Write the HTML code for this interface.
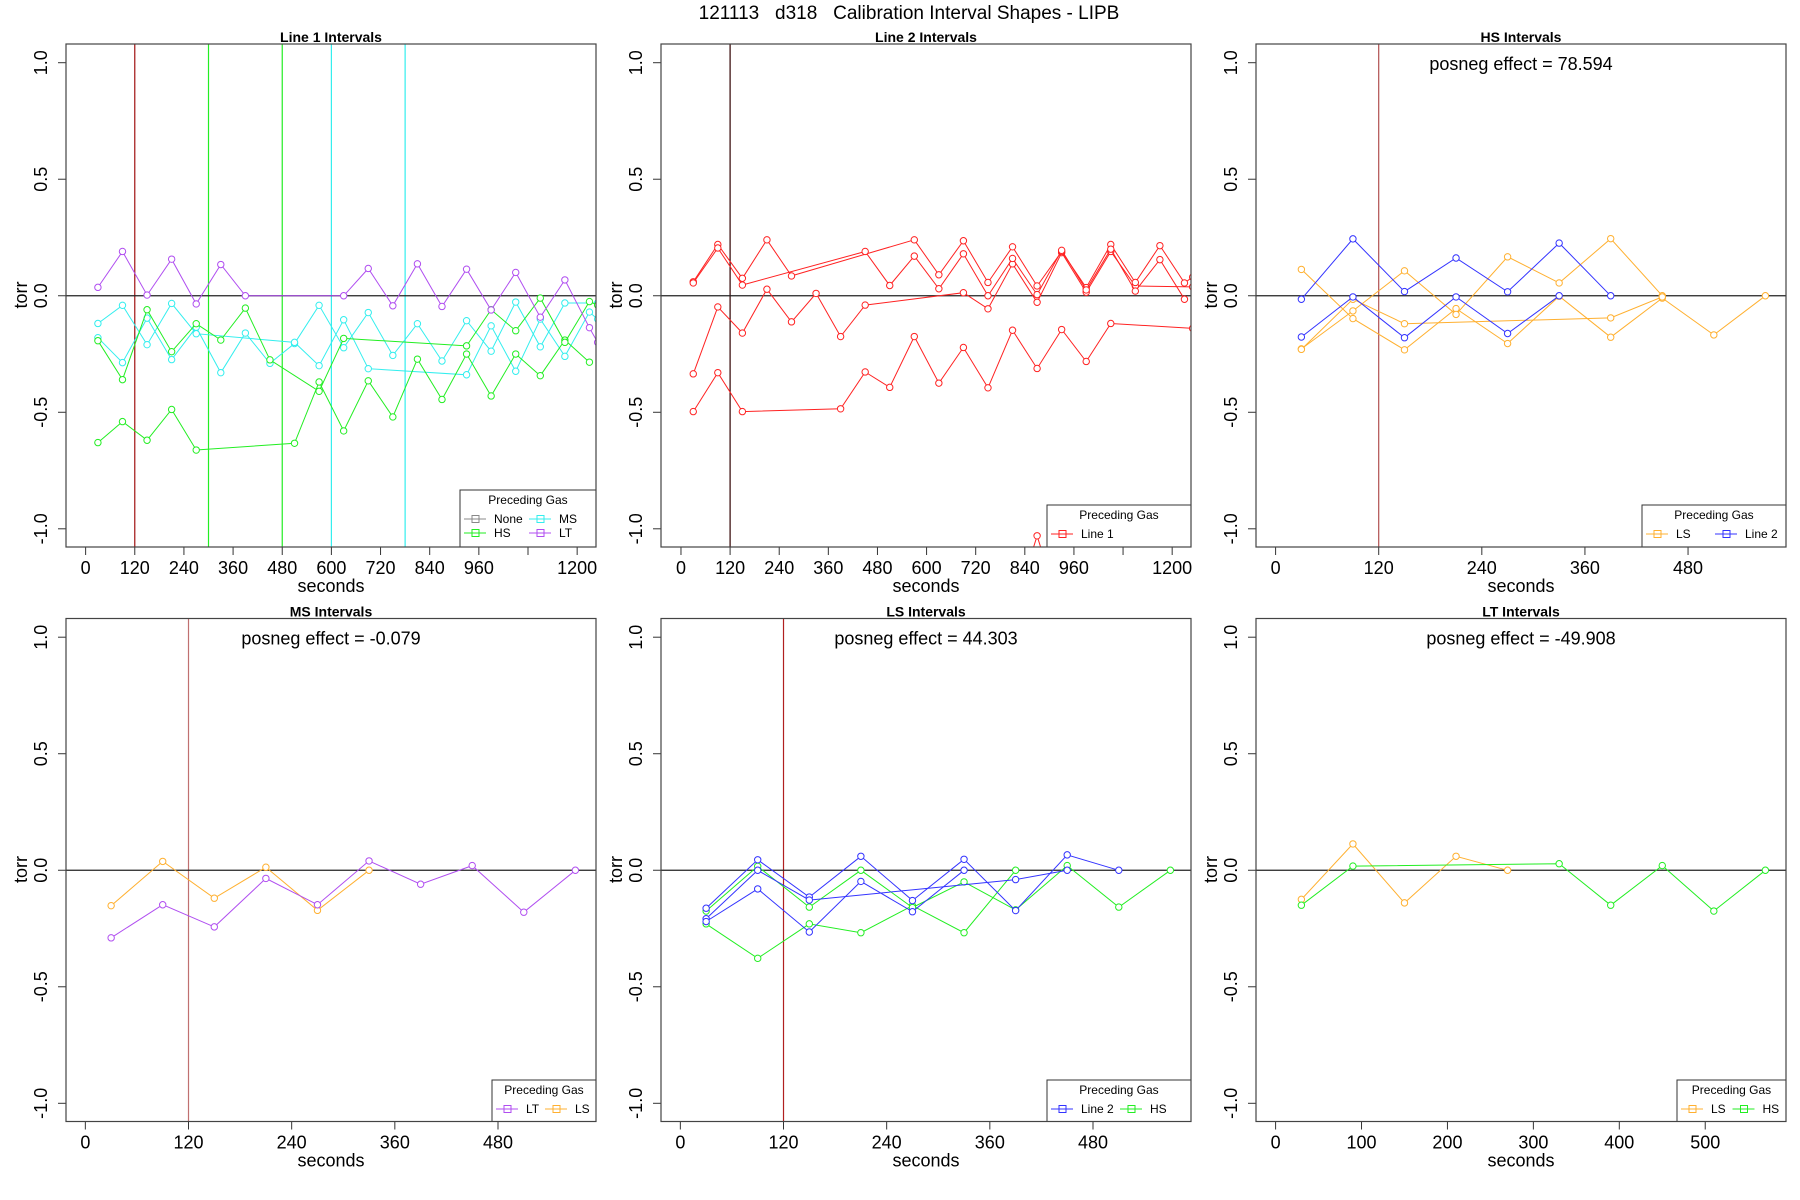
<!DOCTYPE html>
<html><head><meta charset="utf-8"><style>
html,body{margin:0;padding:0;background:#fff;}
svg{display:block;font-family:"Liberation Sans",Arial,sans-serif;}
</style></head><body>
<svg id="chart" width="1800" height="1200" viewBox="0 0 1800 1200" xmlns="http://www.w3.org/2000/svg">
<rect width="1800" height="1200" fill="#fff"/>
<text x="909" y="19" font-size="19" text-anchor="middle" style="white-space:pre">121113   d318   Calibration Interval Shapes - LIPB</text>
</svg>
<script>
// ---------- data ----------
const p1_LT = [[30,0.036],[90,0.19],[150,0.003],[210,0.157],[270,-0.035],[330,0.134],[390,0],[630,0],[690,0.117],[750,-0.043],[810,0.137],[870,-0.046],[930,0.114],[990,-0.061],[1050,0.1],[1110,-0.092],[1170,0.068],[1230,-0.137],[1250,-0.2]];
const p1_MS_a = [[30,-0.18],[90,-0.287],[150,-0.096],[210,-0.274],[270,-0.135],[330,-0.33],[390,-0.16],[450,-0.29],[510,-0.205],[570,-0.041],[630,-0.223],[690,-0.072],[750,-0.256],[810,-0.12],[870,-0.28],[930,-0.107],[990,-0.238],[1050,-0.027],[1110,-0.219],[1170,-0.031],[1250,-0.031]];
const p1_MS_b = [[30,-0.119],[90,-0.041],[150,-0.21],[210,-0.033],[270,-0.163],[510,-0.2],[570,-0.3],[630,-0.103],[690,-0.313],[930,-0.339],[990,-0.129],[1050,-0.324],[1110,-0.1],[1170,-0.26],[1230,-0.07],[1250,-0.1]];
const p1_HS_a = [[30,-0.63],[90,-0.54],[150,-0.62],[210,-0.488],[270,-0.662],[510,-0.633],[570,-0.37],[630,-0.58],[690,-0.365],[750,-0.52],[810,-0.272],[870,-0.445],[930,-0.25],[990,-0.43],[1050,-0.25],[1110,-0.343],[1170,-0.19],[1230,-0.285]];
const p1_HS_b = [[30,-0.193],[90,-0.36],[150,-0.06],[210,-0.24],[270,-0.12],[330,-0.19],[390,-0.053],[450,-0.275],[570,-0.41],[630,-0.183],[930,-0.215],[990,-0.06],[1050,-0.15],[1110,-0.01],[1170,-0.2],[1230,-0.025],[1250,-0.04]];
const p2_R1 = [[30,-0.497],[90,-0.33],[150,-0.497],[390,-0.485],[450,-0.327],[510,-0.393],[570,-0.175],[630,-0.375],[690,-0.222],[750,-0.395],[810,-0.148],[870,-0.312],[930,-0.145],[990,-0.282],[1050,-0.119],[1250,-0.14]];
const p2_R2 = [[30,-0.335],[90,-0.048],[150,-0.16],[210,0.028],[270,-0.112],[330,0.01],[390,-0.175],[450,-0.04],[690,0.013],[750,-0.056],[810,0.137],[870,-0.028],[930,0.185],[990,0.015],[1050,0.19],[1110,0.042],[1250,0.038]];
const p2_R3 = [[30,0.06],[90,0.22],[150,0.075],[210,0.24],[270,0.085],[570,0.24],[630,0.09],[690,0.236],[750,0.057],[810,0.21],[870,0.042],[930,0.19],[990,0.035],[1050,0.22],[1110,0.057],[1170,0.215],[1230,0.055],[1250,0.08]];
const p2_R4 = [[30,0.055],[90,0.205],[150,0.046],[450,0.19],[510,0.044],[570,0.17],[630,0.03],[690,0.18],[750,0],[810,0.16],[870,0.005],[930,0.195],[990,0.025],[1050,0.2],[1110,0.02],[1170,0.155],[1230,-0.015]];
const p2_R5 = [[840,-1.2],[870,-1.03],[900,-1.2]];
const p3_B1 = [[30,-0.015],[90,0.244],[150,0.018],[210,0.162],[270,0.017],[330,0.226],[390,0]];
const p3_B2 = [[30,-0.177],[90,-0.005],[150,-0.18],[210,-0.005],[270,-0.162],[330,0]];
const p3_O1 = [[30,0.113],[90,-0.098],[150,-0.232],[210,-0.055],[270,-0.205],[330,-0.002],[390,-0.178],[450,-0.01],[510,-0.168],[570,0]];
const p3_O2 = [[30,-0.228],[90,-0.065],[150,0.107],[210,-0.08],[270,0.167],[330,0.055],[390,0.245],[450,0]];
const p3_O3 = [[30,-0.23],[90,-0.015],[150,-0.12],[390,-0.095],[450,-0.005]];
const p4_LT = [[30,-0.29],[90,-0.148],[150,-0.243],[210,-0.035],[270,-0.148],[330,0.04],[390,-0.06],[450,0.02],[510,-0.18],[570,0]];
const p4_LS = [[30,-0.152],[90,0.038],[150,-0.12],[210,0.013],[270,-0.172],[330,0]];
const p5_B1 = [[30,-0.163],[90,0.045],[150,-0.115],[210,0.06],[270,-0.13],[330,0.047],[390,-0.173],[450,0.066],[510,0]];
const p5_B2 = [[30,-0.208],[90,0],[150,-0.128],[390,-0.04],[450,0]];
const p5_B3 = [[30,-0.22],[90,-0.08],[150,-0.265],[210,-0.048],[270,-0.178],[330,0]];
const p5_G1 = [[30,-0.23],[90,-0.378],[150,-0.23],[210,-0.268],[270,-0.152],[330,-0.268],[390,0]];
const p5_G2 = [[30,-0.175],[90,0.017],[150,-0.158],[210,0],[270,-0.16],[330,-0.05],[390,-0.17],[450,0.02],[510,-0.158],[570,0]];
const p6_LS = [[30,-0.125],[90,0.113],[150,-0.14],[210,0.06],[270,0]];
const p6_HS = [[30,-0.15],[90,0.018],[330,0.028],[390,-0.15],[450,0.02],[510,-0.175],[570,0]];
const yTicks = [-1,-0.5,0,0.5,1];
const yTickLabels = ["-1.0","-0.5","0.0","0.5","1.0"];
const xTicksLong = [0,120,240,360,480,600,720,840,960,1080,1200];
const xTickLabelsLong = ["0","120","240","360","480","600","720","840","960","","1200"];
const xTicksShort = [0,120,240,360,480];
const xTicksHundred = [0,100,200,300,400,500];

const GREEN="#22ee22", CYAN="#33eeee", PURPLE="#b04ef0", ORANGE="#ffb030", BLUE="#3333ff", RED="#ff2222", GRAY="#888888";
const NS="http://www.w3.org/2000/svg";
const svg=document.getElementById('chart');
function mk(tag,attrs,parent){const e=document.createElementNS(NS,tag);for(const k in attrs)e.setAttribute(k,attrs[k]);(parent||svg).appendChild(e);return e;}

const panels=[
 {id:1,left:66,top:44,title:"Line 1 Intervals",xlim:[-47.9,1246],ticks:xTicksLong,labels:xTickLabelsLong,posneg:null,
  vlines:[[120,"#a01010"],[300,GREEN],[480,GREEN],[600,CYAN],[780,CYAN]],
  series:[[p1_MS_a,CYAN],[p1_MS_b,CYAN],[p1_HS_a,GREEN],[p1_HS_b,GREEN],[p1_LT,PURPLE]],
  legend:{x0:460,y0:490,rows:[[["None",GRAY],["MS",CYAN]],[["HS",GREEN],["LT",PURPLE]]]}},
 {id:2,left:661,top:44,title:"Line 2 Intervals",xlim:[-48.8,1246],ticks:xTicksLong,labels:xTickLabelsLong,posneg:null,
  vlines:[[120,"#300000"]],
  series:[[p2_R1,RED],[p2_R2,RED],[p2_R3,RED],[p2_R4,RED],[p2_R5,RED]],
  legend:{x0:1047,y0:505,rows:[[["Line 1",RED]]]}},
 {id:3,left:1256,top:44,title:"HS Intervals",xlim:[-22.8,594],ticks:xTicksShort,labels:xTicksShort.map(String),posneg:"posneg effect = 78.594",
  vlines:[[120,"#b05050"]],
  series:[[p3_O1,ORANGE],[p3_O2,ORANGE],[p3_O3,ORANGE],[p3_B1,BLUE],[p3_B2,BLUE]],
  legend:{x0:1642,y0:505,rows:[[["LS",ORANGE],["Line 2",BLUE]]]}},
 {id:4,left:66,top:618.5,title:"MS Intervals",xlim:[-22.5,594],ticks:xTicksShort,labels:xTicksShort.map(String),posneg:"posneg effect = -0.079",
  vlines:[[120,"#c07070"]],
  series:[[p4_LS,ORANGE],[p4_LT,PURPLE]],
  legend:{x0:492,y0:1080,rows:[[["LT",PURPLE],["LS",ORANGE]]]}},
 {id:5,left:661,top:618.5,title:"LS Intervals",xlim:[-22.5,594],ticks:xTicksShort,labels:xTicksShort.map(String),posneg:"posneg effect = 44.303",
  vlines:[[120,"#b02020"]],
  series:[[p5_G1,GREEN],[p5_G2,GREEN],[p5_B1,BLUE],[p5_B2,BLUE],[p5_B3,BLUE]],
  legend:{x0:1047,y0:1080,rows:[[["Line 2",BLUE],["HS",GREEN]]]}},
 {id:6,left:1256,top:618.5,title:"LT Intervals",xlim:[-22.8,594],ticks:xTicksHundred,labels:xTicksHundred.map(String),posneg:"posneg effect = -49.908",
  vlines:[],
  series:[[p6_LS,ORANGE],[p6_HS,GREEN]],
  legend:{x0:1677,y0:1080,rows:[[["LS",ORANGE],["HS",GREEN]]]}}
];

const W=530, H=503;
panels.forEach(p=>{
  const L=p.left,T=p.top,R=L+W,B=T+H;
  const y1=T+18.7, ym1=T+484.8;
  const ys=v=>y1+(1-v)/2*(ym1-y1);
  const xs=v=>L+(v-p.xlim[0])/(p.xlim[1]-p.xlim[0])*W;
  const g=mk('g',{});
  
  
  const cp=mk('clipPath',{id:'clip'+p.id},g);
  mk('rect',{x:L,y:T,width:W,height:H},cp);
  const t=mk('text',{x:L+W/2,y:T-2,'font-size':14,'font-weight':'bold','text-anchor':'middle'},g);
  t.textContent=p.title;
  
  
  yTicks.forEach((v,i)=>{
    const yy=ys(v);
    mk('line',{x1:L-8,x2:L,y1:yy,y2:yy,stroke:'#333','stroke-width':1},g);
    const tl=mk('text',{x:L-19,y:yy,'font-size':18,'text-anchor':'middle',transform:`rotate(-90 ${L-19} ${yy})`},g);
    tl.textContent=yTickLabels[i];
    
    
  });
  mk('line',{x1:L,x2:L,y1:ys(-1),y2:ys(1),stroke:'#333'},g);
  const yt=mk('text',{x:L-39,y:T+251,'font-size':18,'text-anchor':'middle',transform:`rotate(-90 ${L-39} ${T+251})`},g);
  yt.textContent='torr';
  
  
  const vis=p.ticks.filter(v=>v>=p.xlim[0]&&v<=p.xlim[1]);
  p.ticks.forEach((v,i)=>{
    if(v<p.xlim[0]||v>p.xlim[1])return;
    const xx=xs(v);
    mk('line',{x1:xx,x2:xx,y1:B,y2:B+8,stroke:'#333'},g);
    const tl=mk('text',{x:xx,y:B+27,'font-size':18,'text-anchor':'middle'},g);
    tl.textContent=p.labels[i];
    
    
  });
  mk('line',{x1:xs(vis[0]),x2:xs(vis[vis.length-1]),y1:B,y2:B,stroke:'#333'},g);
  const xt=mk('text',{x:L+W/2,y:B+45,'font-size':18,'text-anchor':'middle'},g);
  xt.textContent='seconds';
  
  
  const pc=mk('g',{'clip-path':`url(#clip${p.id})`},g);
  p.vlines.forEach(v=>{
    const l=mk('line',{x1:xs(v[0]),x2:xs(v[0]),y1:T,y2:B,stroke:v[1],'stroke-width':1.2},pc);
    
    
  });
  mk('line',{x1:L,x2:R,y1:ys(0),y2:ys(0),stroke:'#222','stroke-width':1.2},pc);
  p.series.forEach(s=>{
    const pts=s[0].map(d=>xs(d[0]).toFixed(1)+','+ys(d[1]).toFixed(1)).join(' ');
    const pl=mk('polyline',{points:pts,fill:'none',stroke:s[1],'stroke-width':1},pc);
    
    
    s[0].forEach(d=>{
      const c=mk('circle',{cx:xs(d[0]),cy:ys(d[1]),r:3.2,fill:'#fff',stroke:s[1],'stroke-width':1},pc);
      
      
    });
  });
  if(p.posneg){
    const pt=mk('text',{x:L+W/2,y:T+26,'font-size':18,'text-anchor':'middle'},g);
    pt.textContent=p.posneg;
    
    
  }
  const lg=mk('g',{},g);
  
  
  const lx=p.legend.x0, ly=p.legend.y0;
  mk('rect',{x:lx,y:ly,width:R-lx,height:B-ly,fill:'#fff',stroke:'#333'},lg);
  const lt=mk('text',{x:(lx+R)/2,y:ly+14,'font-size':12,'text-anchor':'middle'},lg);
  lt.textContent='Preceding Gas';
  p.legend.rows.forEach((row,ri)=>{
    const yy=ly+29+ri*14;
    const colW=(R-lx-6)/row.length;
    row.forEach((e,ci)=>{
      const ex=lx+4+ci*colW;
      const eg=mk('g',{},lg);
      
      
      mk('line',{x1:ex,x2:ex+22,y1:yy,y2:yy,stroke:e[1]},eg);
      mk('rect',{x:ex+8,y:yy-3.5,width:7,height:7,fill:'none',stroke:e[1]},eg);
      const et=mk('text',{x:ex+30,y:yy+4,'font-size':12},eg);
      et.textContent=e[0];
    });
  });
  mk('rect',{x:L,y:T,width:W,height:H,fill:'none',stroke:'#444','stroke-width':1.2},g);
});
</script>
</body></html>
